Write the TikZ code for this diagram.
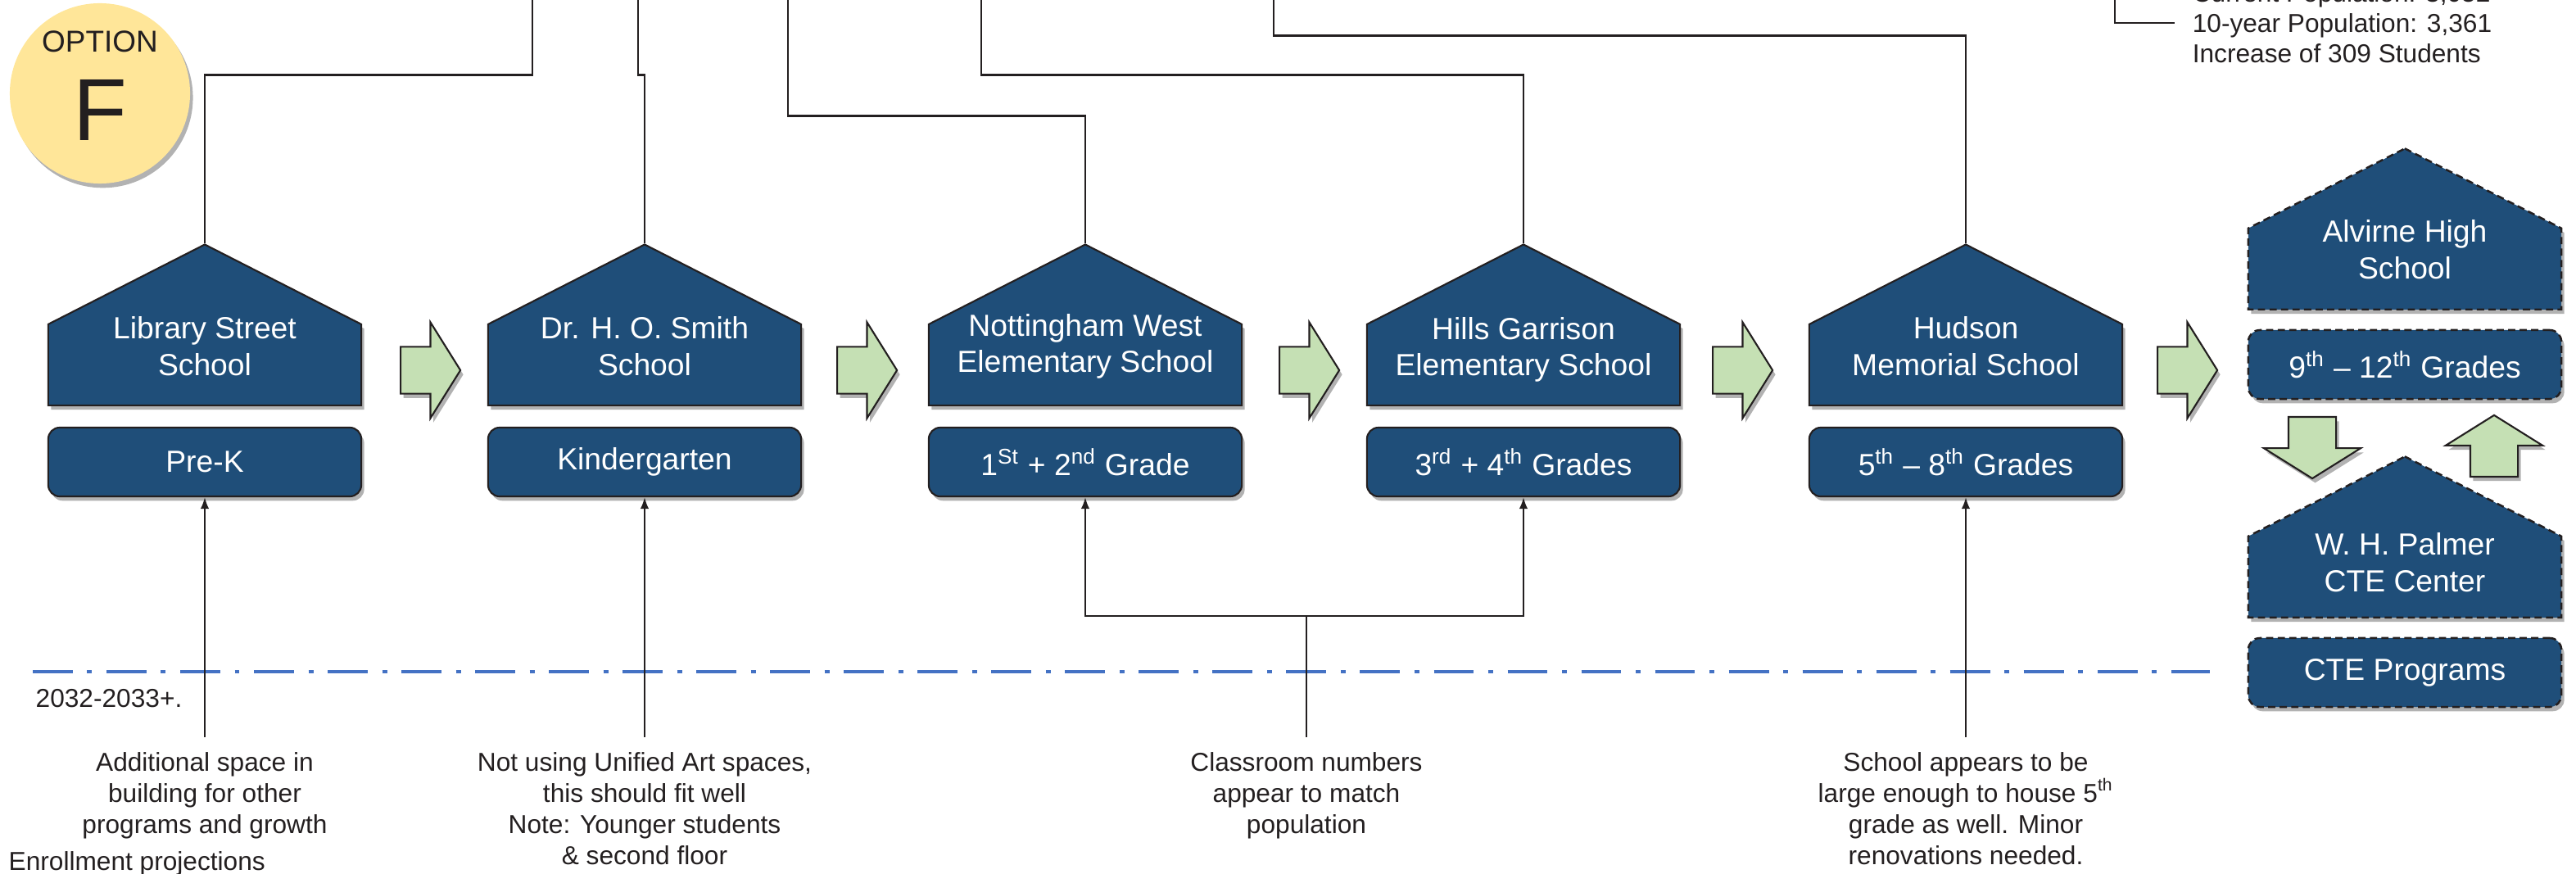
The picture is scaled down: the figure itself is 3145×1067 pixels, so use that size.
\documentclass[tikz,border=0pt]{standalone}
\usepackage{fontspec}
\setmainfont{Liberation Sans}
\usetikzlibrary{shapes.symbols,shapes.arrows,shadows,arrows.meta}

\definecolor{schoolblue}{RGB}{31,78,121}
\definecolor{stepgreen}{RGB}{197,224,180}
\definecolor{optionyellow}{RGB}{255,230,153}
\definecolor{lineblue}{RGB}{68,114,196}
\definecolor{ink}{RGB}{35,31,32}

\tikzset{
  softshadow/.style={drop shadow={shadow xshift=1pt,shadow yshift=-1.5pt,opacity=0.3,fill=black}},
  house/.style={signal,signal to=north,signal pointer angle=126,
    minimum width=3.82cm,minimum height=0.99cm,inner sep=0pt,
    fill=schoolblue,draw=ink,line width=0.6pt,softshadow},
  housetext/.style={text=white,align=center,font=\fontsize{10.6}{12.7}\selectfont},
  grade/.style={rectangle,rounded corners=4pt,minimum width=3.82cm,minimum height=0.84cm,
    fill=schoolblue,draw=ink,line width=0.6pt,text=white,
    font=\fontsize{10.6}{12.7}\selectfont,softshadow},
  planned/.style={dash pattern=on 2.5pt off 1.5pt,line width=0.7pt},
  nextarrow/.style={single arrow,single arrow head extend=0.3cm,single arrow tip angle=116,
    minimum height=0.73cm,inner xsep=0pt,inner ysep=0.275cm,
    fill=stepgreen,draw=ink,line width=0.6pt,softshadow},
  swaparrow/.style={nextarrow,inner xsep=0.28cm,inner ysep=0pt,minimum height=0.75cm},
  note/.style={align=center,text=ink,inner sep=5pt,font=\fontsize{9}{10.8}\selectfont},
  link/.style={draw=ink,line width=0.8pt},
  stem/.style={draw=ink,line width=0.6pt},
  pointer/.style={stem,-{Latex[length=4pt,width=3pt]}},
  horizon/.style={draw=lineblue,line width=1.4pt,dash pattern=on 13.9pt off 5pt on 1.7pt off 5pt}
}

\begin{document}
\begin{tikzpicture}[x=0.01cm,y=-0.01cm]
  \useasboundingbox (0,0) rectangle (3145,1067);

  % option badge
  \node[circle,fill=optionyellow,minimum size=2.2cm,inner sep=0pt,softshadow] (opt) at (122,114) {};
  \node[align=center,text=ink,font=\fontsize{30.6}{30.7}\selectfont]
        (optname) at (122,105) {{\fontsize{10.5}{12}\selectfont OPTION}\\F};

  % schools, left to right
  \node[house,anchor=south] (ls) at (250,496) {};
  \node[housetext] (lsname) at (250,423) {Library Street\\School};
  \node[grade] (prek) at (250,564) {Pre-K};

  \node[house,anchor=south] (hos) at (787,496) {};
  \node[housetext] (hosname) at (787,423) {Dr. H. O. Smith\\School};
  \node[grade] (kinder) at (787,564) {Kindergarten};

  \node[house,anchor=south] (nw) at (1325,496) {};
  \node[housetext] (nwname) at (1325,423) {Nottingham West\\Elementary School};
  \node[grade] (g12) at (1325,564) {1\textsuperscript{St} + 2\textsuperscript{nd} Grade};

  \node[house,anchor=south] (hg) at (1860,496) {};
  \node[housetext] (hgname) at (1860,427) {Hills Garrison\\Elementary School};
  \node[grade] (g34) at (1860,564) {3\textsuperscript{rd} + 4\textsuperscript{th} Grades};

  \node[house,anchor=south] (hm) at (2400,496) {};
  \node[housetext] (hmname) at (2400,423) {Hudson\\Memorial School};
  \node[grade] (g58) at (2400,564) {5\textsuperscript{th} \textendash{} 8\textsuperscript{th} Grades};

  % high school and CTE (planned, dashed)
  \node[house,planned,anchor=south] (ahs) at (2936,379) {};
  \node[housetext] (ahsname) at (2936,305) {Alvirne High\\School};
  \node[grade,planned] (g912) at (2936,445) {9\textsuperscript{th} \textendash{} 12\textsuperscript{th} Grades};
  \node[house,planned,anchor=south] (whp) at (2936,755) {};
  \node[housetext] (whpname) at (2936,687) {W. H. Palmer\\CTE Center};
  \node[grade,planned] (cte) at (2936,821) {CTE Programs};

  % green step arrows
  \node[nextarrow,anchor=tail] (a1) at (488,452) {};
  \node[nextarrow,anchor=tail] (a2) at (1021,452) {};
  \node[nextarrow,anchor=tail] (a3) at (1561,452) {};
  \node[nextarrow,anchor=tail] (a4) at (2090,452) {};
  \node[nextarrow,anchor=tail] (a5) at (2633,452) {};
  \node[swaparrow,anchor=tail,shape border rotate=270] (a6) at (2823,508) {};
  \node[swaparrow,anchor=tail,shape border rotate=90] (a7) at (3045,583) {};

  % lines from above
  \coordinate (t1) at (650,-10);
  \coordinate (t2) at (779,-10);
  \coordinate (t3) at (962,-10);
  \coordinate (t4) at (1198,-10);
  \coordinate (t5) at (1555,-10);
  \coordinate (t6) at (2582,-10);
  \draw[link] (ls.north) -- ++(0,-206) -| (t1);
  \draw[link] (hos.north) -- ++(0,-206) -| (t2);
  \draw[link] (nw.north) -- ++(0,-156) -| (t3);
  \draw[link] (hg.north) -- ++(0,-206) -| (t4);
  \draw[link] (hm.north) -- ++(0,-254) -| (t5);

  \node[align=left,anchor=west,inner xsep=6pt,inner ysep=0pt,text=ink,
        font=\fontsize{9}{10.5}\selectfont] (pop) at (2655,28)
        {Current Population: 3,052\\10-year Population: 3,361\\Increase of 309 Students};
  \draw[link] (t6) |- (pop.west);

  % projection horizon
  \coordinate (hl) at (40,820);
  \coordinate (hr) at (2698,820);
  \draw[horizon] (hl) -- (hr);
  \node[anchor=west,inner sep=0pt,text=ink,font=\fontsize{9}{10.8}\selectfont]
        (yr) at (43,853) {2032-2033+.};
  \node[anchor=base west,inner sep=0pt,text=ink,font=\fontsize{9}{10.8}\selectfont]
        (enr) at (10,1062) {Enrollment projections};

  % notes below
  \node[note,anchor=north] (n1) at (250,900) {Additional space in\\building for other\\programs and growth};
  \node[note,anchor=north] (n2) at (787,900) {Not using Unified Art spaces,\\this should fit well\\Note: Younger students\\\& second floor};
  \node[note,anchor=north] (n3) at (1595,900) {Classroom numbers\\appear to match\\population};
  \node[note,anchor=north] (n4) at (2400,900) {School appears to be\\large enough to house 5\textsuperscript{th}\\grade as well. Minor\\renovations needed.};
  \draw[pointer] (n1) -- (prek);
  \draw[pointer] (n2) -- (kinder);
  \draw[stem] (n3.north) -- (1595,752) coordinate (split);
  \draw[pointer] (split) -| (g12);
  \draw[pointer] (split) -| (g34);
  \draw[pointer] (n4) -- (g58);
\end{tikzpicture}
\end{document}
